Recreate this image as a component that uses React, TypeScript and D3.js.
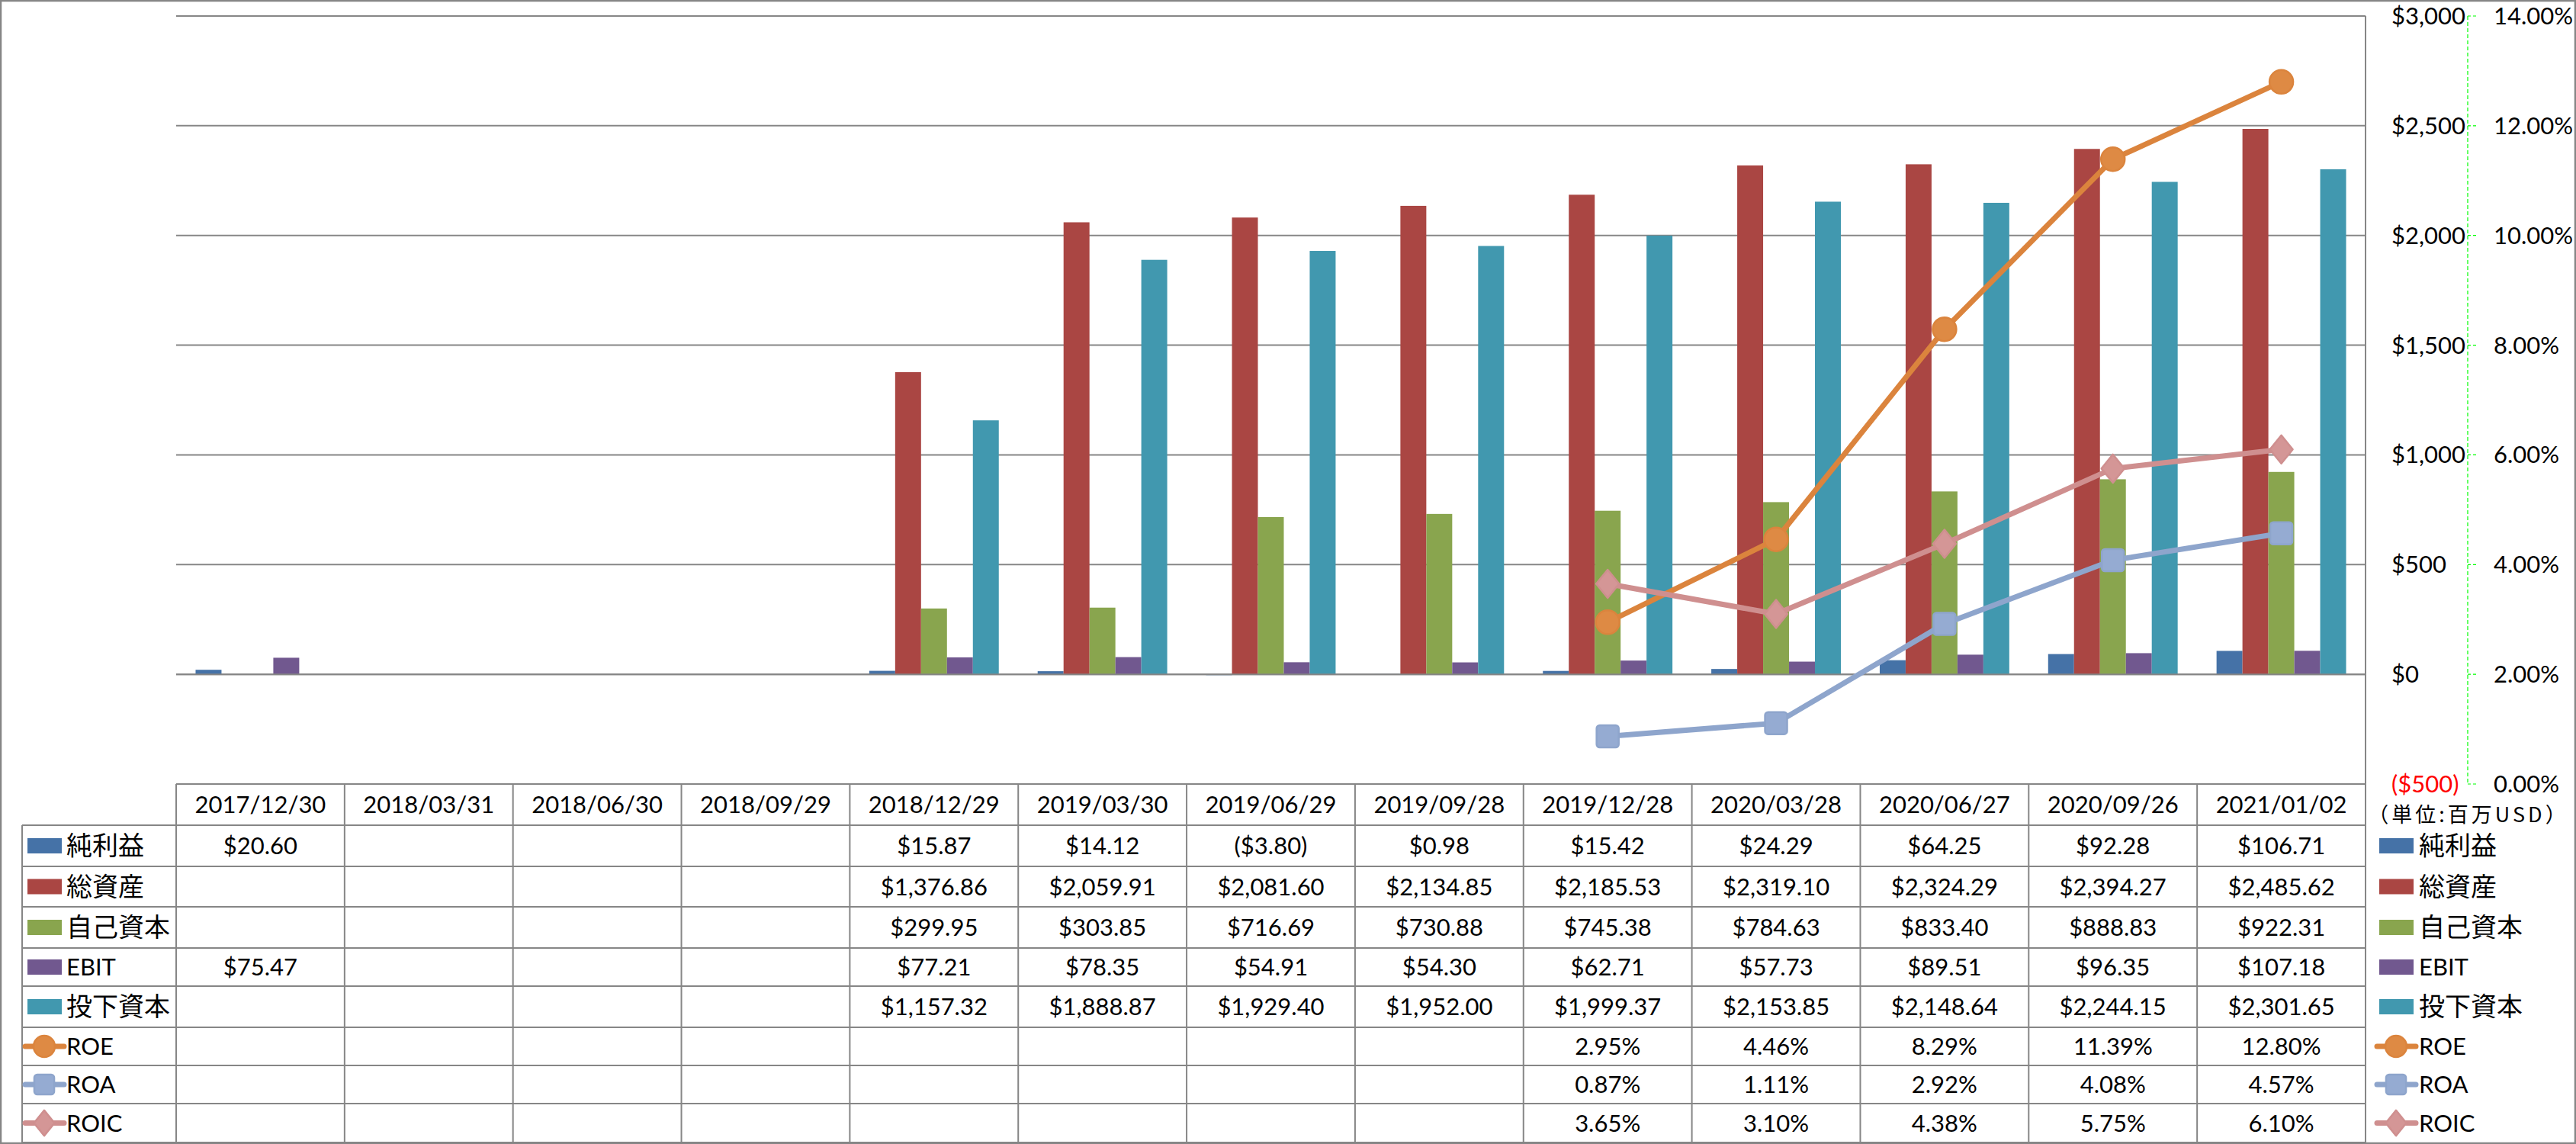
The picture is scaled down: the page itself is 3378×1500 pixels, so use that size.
import React from 'react';
import * as d3 from 'd3';

const categories = [
  '2017/12/30', '2018/03/31', '2018/06/30', '2018/09/29', '2018/12/29', '2019/03/30', '2019/06/29',
  '2019/09/28', '2019/12/28', '2020/03/28', '2020/06/27', '2020/09/26', '2021/01/02',
];

type V = number | null;
const netIncome: V[] = [20.60, null, null, null, 15.87, 14.12, -3.80, 0.98, 15.42, 24.29, 64.25, 92.28, 106.71];
const totalAssets: V[] = [null, null, null, null, 1376.86, 2059.91, 2081.60, 2134.85, 2185.53, 2319.10, 2324.29, 2394.27, 2485.62];
const equity: V[] = [null, null, null, null, 299.95, 303.85, 716.69, 730.88, 745.38, 784.63, 833.40, 888.83, 922.31];
const ebit: V[] = [75.47, null, null, null, 77.21, 78.35, 54.91, 54.30, 62.71, 57.73, 89.51, 96.35, 107.18];
const investedCapital: V[] = [null, null, null, null, 1157.32, 1888.87, 1929.40, 1952.00, 1999.37, 2153.85, 2148.64, 2244.15, 2301.65];
const roe: V[] = [null, null, null, null, null, null, null, null, 2.95, 4.46, 8.29, 11.39, 12.80];
const roa: V[] = [null, null, null, null, null, null, null, null, 0.87, 1.11, 2.92, 4.08, 4.57];
const roic: V[] = [null, null, null, null, null, null, null, null, 3.65, 3.10, 4.38, 5.75, 6.10];

const leftTicks = [-500, 0, 500, 1000, 1500, 2000, 2500, 3000];
const rightTicks = [0, 2, 4, 6, 8, 10, 12, 14];
const unitLabel = '（単位:百万USD）';

const barSeries = [
  { name: '純利益', values: netIncome, color: '#4572A7' },
  { name: '総資産', values: totalAssets, color: '#AA4643' },
  { name: '自己資本', values: equity, color: '#89A54E' },
  { name: 'EBIT', values: ebit, color: '#71588F' },
  { name: '投下資本', values: investedCapital, color: '#4198AF' },
];
const lineSeries = [
  { name: 'ROE', values: roe, color: '#DB843D', fill: '#DE8A44', shape: 'circle' },
  { name: 'ROA', values: roa, color: '#8EA5CC', fill: '#95ABD2', shape: 'square' },
  { name: 'ROIC', values: roic, color: '#CF8F8F', fill: '#D49696', shape: 'diamond' },
];

const W = 3378;
const H = 1500;
const plotL = 231;
const plotR = 3102;
const plotT = 21;
const plotB = 1028;
const rowLines = [1082, 1136, 1189, 1243, 1293, 1347, 1397, 1447, 1498];
const tableLeft = 29;
const GRID = '#868686';
const LATIN = "Lato, 'Noto Sans', sans-serif";
const CJK = "'Noto Sans CJK JP', 'Noto Sans', sans-serif";

const money = d3.format('$,.2f');
const fmtMoney = (v: number) => (v < 0 ? `(${money(-v)})` : money(v));
const axisMoney = d3.format('$,.0f');
const fmtAxis = (v: number) => (v < 0 ? `(${axisMoney(-v)})` : axisMoney(v));
const fmtPct = (v: number) => `${v.toFixed(2)}%`;

const isCJK = (s: string) => /[\u3000-\u9fff\uff00-\uffef]/.test(s);

function Marker({ shape, x, y, color, fill, scale = 1 }: any) {
  if (shape === 'circle') {
    return <circle cx={x} cy={y} r={15.5 * scale} fill={fill} stroke={color} strokeWidth={2.5} />;
  }
  if (shape === 'square') {
    const s = 29 * scale;
    return <rect x={x - s / 2} y={y - s / 2} width={s} height={s} rx={4} fill={fill} stroke={color} strokeWidth={2.5} />;
  }
  const hw = 15 * scale;
  const hh = 18.5 * scale;
  return (
    <path
      d={`M${x},${y - hh}L${x + hw},${y}L${x},${y + hh}L${x - hw},${y}Z`}
      fill={fill}
      stroke={color}
      strokeWidth={2.5}
      strokeLinejoin="round"
    />
  );
}

export default function App() {
  const xBand = d3.scaleBand<string>().domain(categories).range([plotL, plotR]).paddingInner(0).paddingOuter(0);
  const bw = xBand.bandwidth();
  const barW = bw / 6.5;
  const xInner = d3
    .scaleBand<string>()
    .domain(barSeries.map((s) => s.name))
    .range([barW * 0.75, barW * 5.75])
    .padding(0);
  const yL = d3.scaleLinear().domain([-500, 3000]).range([plotB, plotT]);
  const yR = d3.scaleLinear().domain([0, 14]).range([plotB, plotT]);
  const cx = (c: string) => (xBand(c) as number) + bw / 2;

  const line = d3
    .line<{ c: string; v: V }>()
    .defined((d) => d.v !== null)
    .x((d) => cx(d.c))
    .y((d) => yR(d.v as number));

  const rows = [
    ...barSeries.map((s) => ({ name: s.name, kind: 'bar', s, fmt: fmtMoney })),
    ...lineSeries.map((s) => ({ name: s.name, kind: 'line', s, fmt: fmtPct })),
  ];

  const axisX = 3236;
  const legendSym = (r: any, x0: number, yc: number) => {
    if (r.kind === 'bar') {
      return <rect x={x0} y={yc - 10} width={45} height={20} fill={r.s.color} />;
    }
    return (
      <g>
        <line x1={x0 - 3} x2={x0 + 48} y1={yc} y2={yc} stroke={r.s.color} strokeWidth={7} strokeLinecap="round" />
        <Marker shape={r.s.shape} x={x0 + 22} y={yc} color={r.s.color} fill={r.s.fill} scale={0.9} />
      </g>
    );
  };

  return (
    <svg width={W} height={H} style={{ position: 'absolute', left: 0, top: 0, background: '#fff' }}>
      <rect x={0} y={0} width={W} height={H} fill="#fff" />
      {/* gridlines */}
      {leftTicks.map((t) => (
        <line key={`g${t}`} x1={plotL} x2={plotR} y1={yL(t)} y2={yL(t)} stroke={GRID} strokeWidth={2} />
      ))}
      <line x1={plotR} x2={plotR} y1={plotT} y2={H} stroke={GRID} strokeWidth={2} />

      {/* bars */}
      {barSeries.map((s) => (
        <g key={s.name}>
          {s.values.map((v, i) => {
            if (v === null) return null;
            const x = (xBand(categories[i]) as number) + (xInner(s.name) as number);
            const y0 = yL(0);
            const y1 = yL(v);
            return (
              <rect
                key={i}
                x={x}
                y={Math.min(y0, y1)}
                width={xInner.bandwidth()}
                height={Math.abs(y1 - y0)}
                fill={s.color}
              />
            );
          })}
        </g>
      ))}
      <line x1={plotL} x2={plotR} y1={yL(0)} y2={yL(0)} stroke={GRID} strokeWidth={2} />

      {/* lines */}
      {lineSeries.map((s) => {
        const pts = s.values.map((v, i) => ({ c: categories[i], v }));
        return (
          <g key={s.name}>
            <path d={line(pts) as string} fill="none" stroke={s.color} strokeWidth={7} strokeLinejoin="round" strokeLinecap="round" />
            {pts.map((p, i) =>
              p.v === null ? null : (
                <Marker key={i} shape={s.shape} x={cx(p.c)} y={yR(p.v)} color={s.color} fill={s.fill} />
              )
            )}
          </g>
        );
      })}

      {/* right-side axes */}
      <line x1={axisX} x2={axisX} y1={plotT} y2={plotB} stroke="#00FF00" strokeWidth={1.2} strokeDasharray="5,3" />
      {rightTicks.map((t) => (
        <line key={`rt${t}`} x1={axisX} x2={axisX + 11} y1={yR(t)} y2={yR(t)} stroke="#00FF00" strokeWidth={1.2} strokeDasharray="4,3" />
      ))}
      {leftTicks.map((t) => (
        <text key={`lt${t}`} x={3136} y={yL(t) + 11} fontFamily={LATIN} fontSize={31} fill={t < 0 ? '#FF0000' : '#000'}>
          {fmtAxis(t)}
        </text>
      ))}
      {rightTicks.map((t) => (
        <text key={`rl${t}`} x={3270} y={yR(t) + 11} fontFamily={LATIN} fontSize={31} fill="#000">
          {fmtPct(t)}
        </text>
      ))}
      <text x={3237} y={1078} textAnchor="middle" fontFamily={CJK} fontSize={27} letterSpacing={4} fill="#000">
        {unitLabel}
      </text>

      {/* data table */}
      <line x1={plotL} x2={plotR} y1={plotB} y2={plotB} stroke={GRID} strokeWidth={2} />
      {rowLines.map((y, i) => (
        <line key={`rl${i}`} x1={tableLeft} x2={plotR} y1={y} y2={y} stroke={GRID} strokeWidth={2} />
      ))}
      <line x1={tableLeft} x2={tableLeft} y1={rowLines[0]} y2={H} stroke={GRID} strokeWidth={2} />
      {categories.map((c) => (
        <line key={`v${c}`} x1={xBand(c)} x2={xBand(c)} y1={plotB} y2={H} stroke={GRID} strokeWidth={2} />
      ))}
      {categories.map((c) => (
        <text key={`h${c}`} x={cx(c)} y={(plotB + rowLines[0]) / 2 + 11} textAnchor="middle" fontFamily={LATIN} fontSize={31}>
          {c}
        </text>
      ))}
      {rows.map((r, ri) => {
        const yc = (rowLines[ri] + rowLines[ri + 1]) / 2;
        const cjk = isCJK(r.name);
        return (
          <g key={r.name}>
            {legendSym(r, 36, yc)}
            <text x={87} y={yc + (cjk ? 12 : 11)} fontFamily={cjk ? CJK : LATIN} fontSize={cjk ? 34 : 31}>
              {r.name}
            </text>
            {legendSym(r, 3120, yc)}
            <text x={3172} y={yc + (cjk ? 12 : 11)} fontFamily={cjk ? CJK : LATIN} fontSize={cjk ? 34 : 31}>
              {r.name}
            </text>
            {r.s.values.map((v: V, i: number) =>
              v === null ? null : (
                <text key={i} x={cx(categories[i])} y={yc + 11} textAnchor="middle" fontFamily={LATIN} fontSize={31}>
                  {r.fmt(v)}
                </text>
              )
            )}
          </g>
        );
      })}

      {/* outer border */}
      <rect x={1} y={1} width={W - 2} height={H - 2} fill="none" stroke={GRID} strokeWidth={2.5} />
    </svg>
  );
}
